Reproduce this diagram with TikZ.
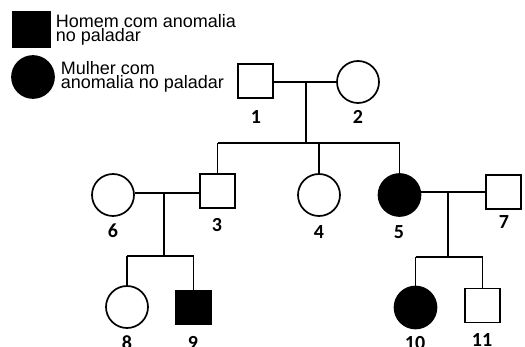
\documentclass[tikz,border=0pt]{standalone}
\usepackage{fontspec}
\setmainfont{Liberation Sans}
\newfontfamily\labelfont{Carlito}
\begin{document}
\begin{tikzpicture}[x=1pt,y=-1pt,
  line width=1.7pt,
  male/.style={draw, rectangle, minimum width=35pt, minimum height=34pt, inner sep=0pt},
  female/.style={draw, circle, minimum size=42pt, inner sep=0pt},
  affected/.style={fill=black},
  tag/.style={font=\labelfont\bfseries\fontsize{20}{20}\selectfont, inner sep=0pt},
  legendtext/.style={font=\fontsize{18}{14}\selectfont, align=left, inner sep=0pt, anchor=base west}]
\useasboundingbox (0,0) rectangle (525,347);

% legend (anchor sits on the baseline of the last line)
\node[male, affected, minimum width=37pt, minimum height=35pt] (lgm) at (31.5,29.5) {};
\node[legendtext] (lgmt) at (55,42) {Homem com anomalia\\no paladar};
\node[female, affected] (lgf) at (33,77) {};
\node[legendtext] (lgft) at (60,89) {Mulher com\\anomalia no paladar};

% generation I
\node[male] (p1) at (255.5,81) {};
\node[female] (p2) at (358,82) {};
% generation II
\node[male] (p3) at (217.5,191) {};
\node[female] (p4) at (319,195) {};
\node[female, affected] (p5) at (399.5,195) {};
\node[female] (p6) at (113,195) {};
\node[male] (p7) at (503.5,192) {};
% generation III
\node[female] (p8) at (127,307) {};
\node[male, affected] (p9) at (193.5,307.5) {};
\node[female, affected] (p10) at (415.5,307.5) {};
\node[male] (p11) at (482.5,305.5) {};

% numbers
\node[tag] (t1) at (256,117) {1};
\node[tag] (t2) at (358,117) {2};
\node[tag] (t3) at (217,225) {3};
\node[tag] (t4) at (319,232) {4};
\node[tag] (t5) at (399,232) {5};
\node[tag] (t6) at (113,231) {6};
\node[tag] (t7) at (504,222) {7};
\node[tag] (t8) at (127,343) {8};
\node[tag] (t9) at (193,343) {9};
\node[tag] (t10) at (415,343) {10};
\node[tag] (t11) at (482,340) {11};

% junction points
\coordinate (m12) at (306,82);
\coordinate (s12) at (306,143);
\coordinate (s12a) at (217.5,143);
\coordinate (s12b) at (319,143);
\coordinate (s12c) at (399.5,143);
\coordinate (m36) at (164,193);
\coordinate (s36) at (164,256);
\coordinate (s36a) at (127,256);
\coordinate (s36b) at (193.5,256);
\coordinate (m57) at (448,192);
\coordinate (s57) at (448,257);
\coordinate (s57a) at (415.5,257);
\coordinate (s57b) at (482.5,257);

% couples
\draw (p1.east |- m12) -- (p2.west |- m12);
\draw (p6.east |- m36) -- (p3.west |- m36);
\draw (p5.east |- m57) -- (p7.west |- m57);
% descent lines
\draw (m12) -- (s12);
\draw (s12a) -- (s12c);
\draw (s12a) -- (p3.north);
\draw (s12b) -- (p4.north);
\draw (s12c) -- (p5.north);
\draw (m36) -- (s36);
\draw (s36a) -- (s36b);
\draw (s36a) -- (p8.north);
\draw (s36b) -- (p9.north);
\draw (m57) -- (s57);
\draw (s57a) -- (s57b);
\draw (s57a) -- (p10.north);
\draw (s57b) -- (p11.north);
\end{tikzpicture}
\end{document}
